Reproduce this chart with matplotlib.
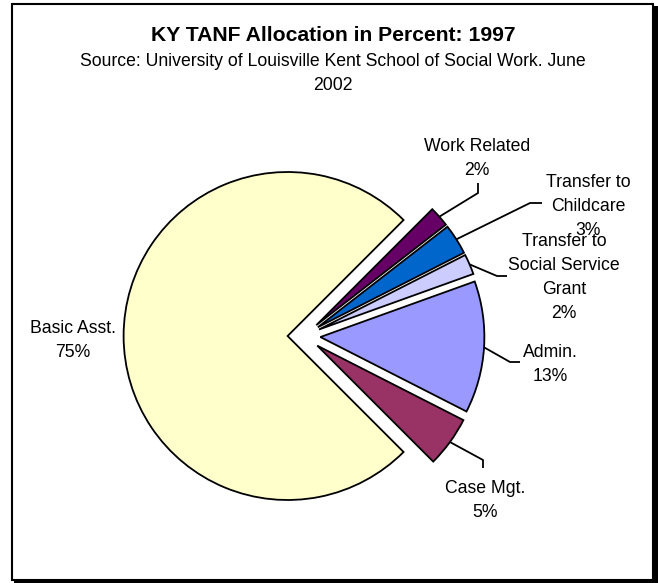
import math
import matplotlib
matplotlib.use("Agg")
import matplotlib.pyplot as plt
from matplotlib.patches import Rectangle

# Allocation shares (percent), in clockwise order starting at the upper right
categories = ["Work Related", "Transfer to Childcare", "Transfer to Social Service Grant",
              "Admin.", "Case Mgt.", "Basic Asst."]
percents = [2, 3, 2, 13, 5, 75]
label_lines = [
    ["Work Related"],
    ["Transfer to", "Childcare"],
    ["Transfer to", "Social Service", "Grant"],
    ["Admin."],
    ["Case Mgt."],
    ["Basic Asst."],
]
colors = ["#660066", "#0066CC", "#CCCCFF", "#9999FF", "#993366", "#FFFFCC"]

title = "KY TANF Allocation in Percent: 1997"
subtitle = ["Source: University of Louisville Kent School of Social Work. June", "2002"]

W, H = 658, 583
FONT = "Liberation Sans"
FS = 12.7


def py(y):
    """Convert a top-down pixel row into the axes' bottom-up coordinate."""
    return H - y


fig = plt.figure(figsize=(W / 100, H / 100), dpi=100)
fig.patch.set_facecolor("white")
ax = fig.add_axes([0, 0, 1, 1])

# Outer frame with a dark drop edge on the right and bottom
ax.add_patch(Rectangle((14, py(583)), W - 14, 583 - 6, facecolor="black",
                       edgecolor="none", zorder=0))
ax.add_patch(Rectangle((12, py(580)), 641, 576, facecolor="white",
                       edgecolor="black", linewidth=1.5, zorder=0.5))

radius = 164
center = (304, py(336))
explode = [0.1 * radius] * len(percents)

wedges, _ = ax.pie(percents, colors=colors, startangle=45, counterclock=False,
                   radius=radius, center=center, explode=explode, frame=False,
                   wedgeprops=dict(edgecolor="black", linewidth=1.3))
for w in wedges:
    w.set_zorder(2)

# Leader line elbows and label anchors (pixel positions, top-down)
leaders = [
    [(478, 193), (478, 183)],
    [(530, 203), (542, 203)],
    [(497, 276), (507, 276)],
    [(510, 362), (520, 362)],
    [(483, 460), (483, 468)],
    None,
]
label_pos = [
    (477, 151),
    (588, 187),
    (564, 246),
    (550, 357),
    (485, 493),
    (73, 333),
]
line_gap = 24

for w, pct, lines, elbow, (lx, ly) in zip(wedges, percents, label_lines, leaders, label_pos):
    if elbow is not None:
        mid = math.radians((w.theta1 + w.theta2) / 2)
        cx, cy = w.center
        sx = cx + w.r * math.cos(mid)
        sy = cy + w.r * math.sin(mid)
        xs = [sx] + [p[0] for p in elbow]
        ys = [sy] + [py(p[1]) for p in elbow]
        ax.plot(xs, ys, color="black", linewidth=1.3, zorder=3,
                solid_capstyle="butt")
    texts = lines + [f"{pct}%"]
    for i, t in enumerate(texts):
        ax.text(lx, py(ly + i * line_gap), t, ha="center", va="baseline",
                fontsize=FS, family=FONT, color="black", zorder=4)

ax.text(333, py(41), title, ha="center", va="baseline", fontsize=15.2,
        fontweight="bold", family=FONT, color="black", zorder=4)
for i, s in enumerate(subtitle):
    ax.text(333, py(66 + i * 24), s, ha="center", va="baseline", fontsize=FS,
            family=FONT, color="black", zorder=4)

ax.set_xlim(0, W)
ax.set_ylim(0, H)
ax.set_aspect("equal", adjustable="box")
ax.axis("off")

fig.savefig("out.png", dpi=100, facecolor="white")
